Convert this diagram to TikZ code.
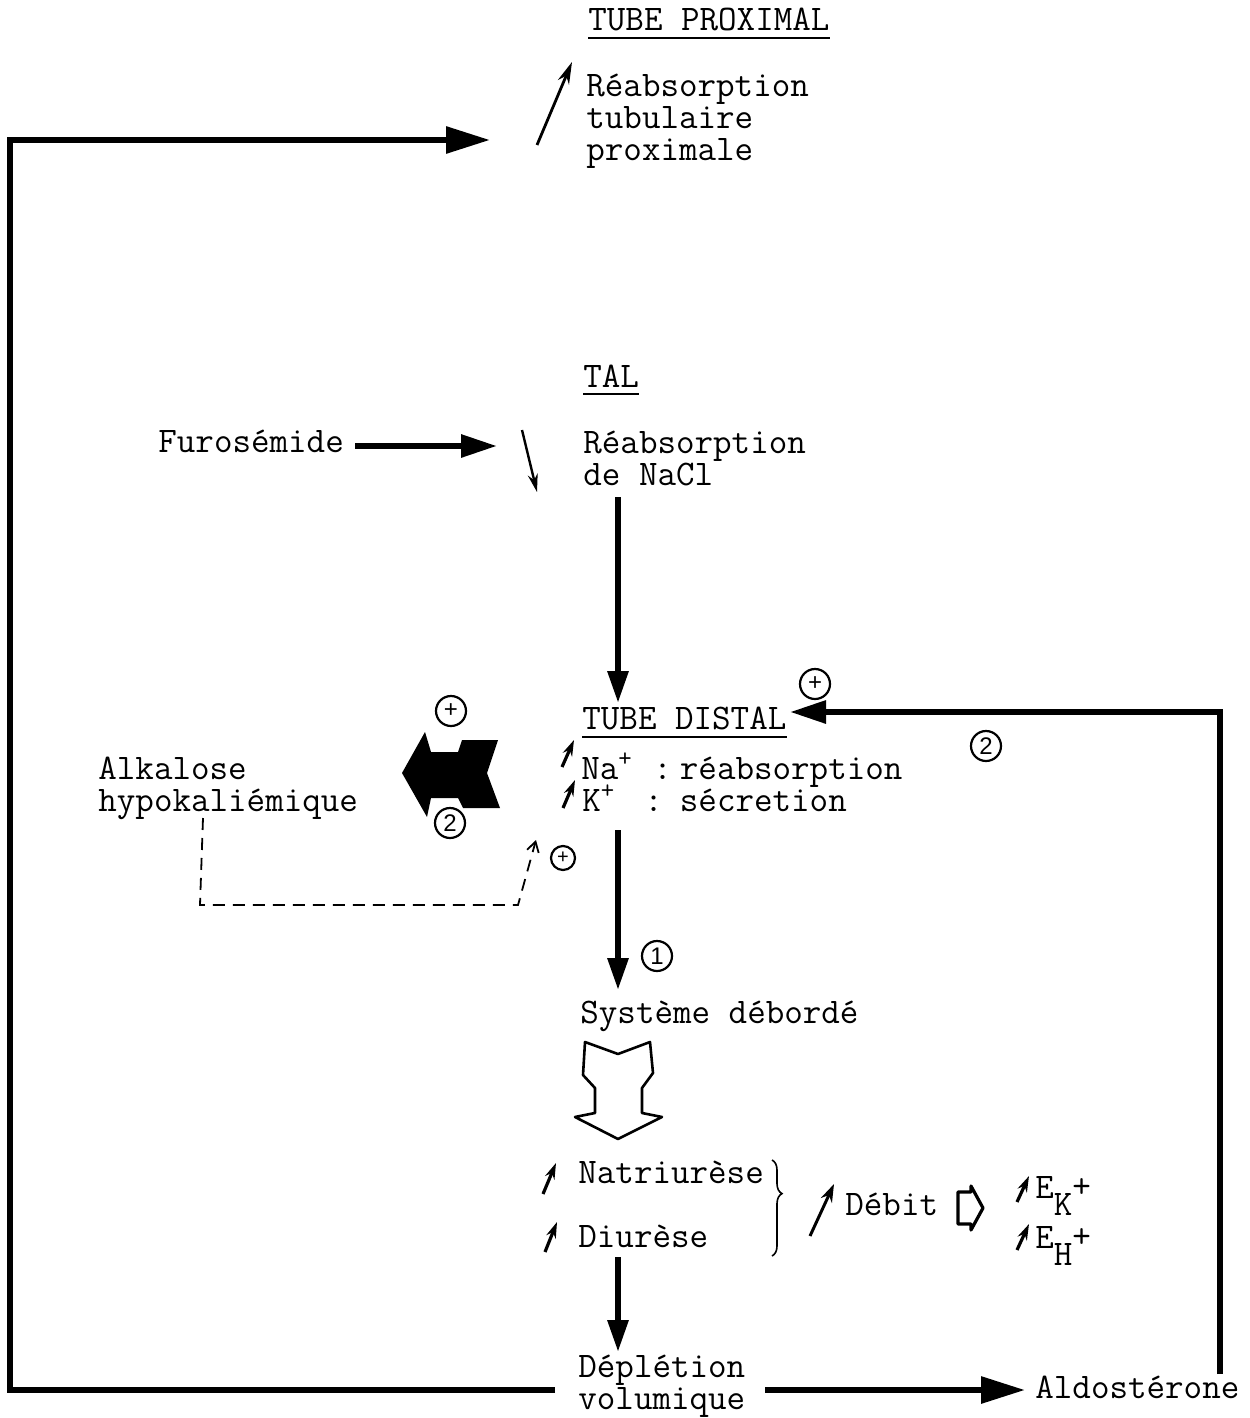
\documentclass[tikz,border=0pt]{standalone}
\usepackage{fontspec}
\newfontfamily\circfont{Liberation Sans}
\usetikzlibrary{arrows.meta,decorations.pathreplacing}
\newcommand{\supplus}{\smash{\raisebox{6.5pt}{\fontsize{13}{13}\selectfont +}}}
\begin{document}
\begin{tikzpicture}[x=0.5pt,y=-0.5pt,
  txt/.style={anchor=base west,inner sep=0pt,font=\ttfamily\fontsize{18}{16}\selectfont},
  mtxt/.style={txt,align=left},
  vthick/.style={line width=3pt,-{Triangle[length=16pt,width=10pt]}},
  hthick/.style={line width=3pt,-{Triangle[length=22pt,width=13pt]}},
  circ/.style={circle,draw,line width=1.1pt,minimum size=15pt,inner sep=0pt,font=\circfont\fontsize{12}{12}\selectfont},
  smallcirc/.style={circ,minimum size=12pt,font=\circfont\fontsize{10}{10}\selectfont},
  upmark/.style={line width=1.6pt,-{Stealth[length=8pt,width=5pt]}},
  thinarrow/.style={line width=1.4pt,-{Stealth[length=11pt,width=6pt]}},
  uline/.style={line width=0.8pt},
]
\useasboundingbox (0,0) rectangle (1249,1418);

% ---- TUBE PROXIMAL ----
\node[txt] (tp) at (588,31) {TUBE PROXIMAL};
\draw[uline] ([yshift=-3.5pt]tp.base west) -- ([yshift=-3.5pt]tp.base east);
% base anchor of a multi-line node = baseline of its last line
\node[mtxt] (rp) at (586,160) {Réabsorption\\tubulaire\\proximale};
\coordinate (upA) at (537,145);
\coordinate (upB) at (572,62);
\draw[thinarrow] (upA) -- (upB);

% ---- TAL ----
\node[txt] (tal) at (583,387) {TAL};
\draw[uline] ([yshift=-3.5pt]tal.base west) -- ([yshift=-3.5pt]tal.base east);
\node[txt] (furo) at (158,452) {Furosémide};
\node[mtxt] (rt) at (583,485) {Réabsorption\\de NaCl};
\coordinate (furoA) at (355,446);
\coordinate (furoB) at (497,446);
\draw[line width=3pt,-{Triangle[length=18pt,width=11pt]}] (furoA) -- (furoB);
\coordinate (dnA) at (522,430);
\coordinate (dnB) at (537,492);
\draw[line width=1.2pt,-{Stealth[length=9pt,width=5pt]}] (dnA) -- (dnB);

% ---- TUBE DISTAL ----
\node[txt] (td) at (582,729) {TUBE DISTAL};
\draw[uline] ([yshift=-4pt]td.base west) -- ([yshift=-4pt]td.base east);
\node[mtxt] (nak) at (581,811) {\makebox[36pt][l]{Na\supplus}:\hspace{4pt}réabsorption\\
  \hspace{0.5pt}\makebox[31pt][l]{K\supplus}:\hspace{8.5pt}sécretion};
\coordinate (naA) at (562,767); \coordinate (naB) at (574,740);
\coordinate (kA) at (563,808); \coordinate (kB) at (575,780);
\draw[upmark] (naA) -- (naB);
\draw[upmark] (kA) -- (kB);

\coordinate (talDownA) at (618,497);
\coordinate (talDownB) at (618,703);
\draw[vthick] (talDownA) -- (talDownB);

% ---- Alkalose ----
\node[mtxt] (alk) at (98,811) {Alkalose\\hypokaliémique};
\fill[line join=round] (402,773) -- (425,732) -- (431,752) -- (458,752) -- (462,740) -- (498,740)
  -- (487,773) -- (500,808) -- (463,808) -- (458,798) -- (431,798) -- (427,817) -- cycle;
\node[circ] (pl1) at (451,711) {+};
\node[circ] (two1) at (450,823) {2};
\coordinate (dA) at (203,818);
\coordinate (dB) at (200,905);
\coordinate (dC) at (518,905);
\coordinate (dD) at (536,840);
\draw[line width=0.9pt,dash pattern=on 6pt off 4pt,-{Straight Barb[length=5pt,width=6pt]}] (dA) -- (dB) -- (dC) -- (dD);
\node[smallcirc] (pl2) at (563,858) {+};

% ---- Aldosterone loop ----
\node[txt] (ald) at (1035,1398) {Aldostérone};
\coordinate (aldTop) at (1220,1374);
\coordinate (aldCorner) at (1220,712);
\coordinate (tdIn) at (790,712);
\draw[line width=3pt,-{Triangle[length=18pt,width=11pt]}] (aldTop) -- (aldCorner) -- (tdIn);
\node[circ] (pl3) at (815,684) {+};
\node[circ] (two2) at (986,746) {2};

% ---- Distal down ----
\coordinate (tdDownA) at (618,830);
\coordinate (tdDownB) at (618,990);
\draw[vthick] (tdDownA) -- (tdDownB);
\node[circ] (one) at (657,956) {1};

\node[txt] (sys) at (580,1023) {Système débordé};
\draw[line width=1.3pt,line join=round]
  (585,1042) -- (618,1054) -- (650,1042) -- (653,1073) -- (642,1088) -- (642,1113)
  -- (662,1117) -- (618,1139) -- (575,1117) -- (595,1113) -- (595,1088) -- (583,1075) -- cycle;

% ---- Natriurese / Diurese ----
\node[txt] (nat) at (578,1183) {Natriurèse};
\node[txt] (diu) at (578,1247) {Diurèse};
\coordinate (natA) at (543,1194); \coordinate (natB) at (556,1163);
\coordinate (diuA) at (545,1252); \coordinate (diuB) at (557,1222);
\draw[upmark] (natA) -- (natB);
\draw[upmark] (diuA) -- (diuB);
\draw[line width=0.8pt,decorate,decoration={brace,amplitude=5pt,aspect=0.35}] (772,1160) -- (772,1256);
\coordinate (debA) at (810,1236); \coordinate (debB) at (834,1184);
\draw[line width=1.5pt,-{Stealth[length=9pt,width=6pt]}] (debA) -- (debB);
\node[txt] (deb) at (845,1215) {Débit};
\draw[line width=1.6pt,line join=round]
  (958,1192) -- (971,1192) -- (971,1186) -- (983,1208) -- (971,1230) -- (971,1224) -- (958,1224) -- cycle;
\node[txt] (ek) at (1035,1198) {E\raisebox{-8.5pt}{K\raisebox{9pt}{+}}};
\node[txt] (eh) at (1035,1248) {E\raisebox{-8.5pt}{H\raisebox{9pt}{+}}};
\coordinate (ekA) at (1017,1202); \coordinate (ekB) at (1029,1176);
\coordinate (ehA) at (1017,1250); \coordinate (ehB) at (1029,1224);
\draw[upmark] (ekA) -- (ekB);
\draw[upmark] (ehA) -- (ehB);

\coordinate (diuDownA) at (618,1257);
\coordinate (diuDownB) at (618,1352);
\draw[vthick] (diuDownA) -- (diuDownB);

% ---- Depletion ----
\node[mtxt] (dep) at (578,1409) {Déplétion\\volumique};
\coordinate (depR) at (765,1390);
\coordinate (aldL) at (1025,1390);
\draw[line width=3pt,-{Triangle[length=22pt,width=13pt]}] (depR) -- (aldL);
\coordinate (depL) at (555,1390);
\coordinate (bl) at (10,1390);
\coordinate (tl) at (10,140);
\coordinate (proxIn) at (490,140);
\draw[hthick] (depL) -- (bl) -- (tl) -- (proxIn);
\end{tikzpicture}
\end{document}
